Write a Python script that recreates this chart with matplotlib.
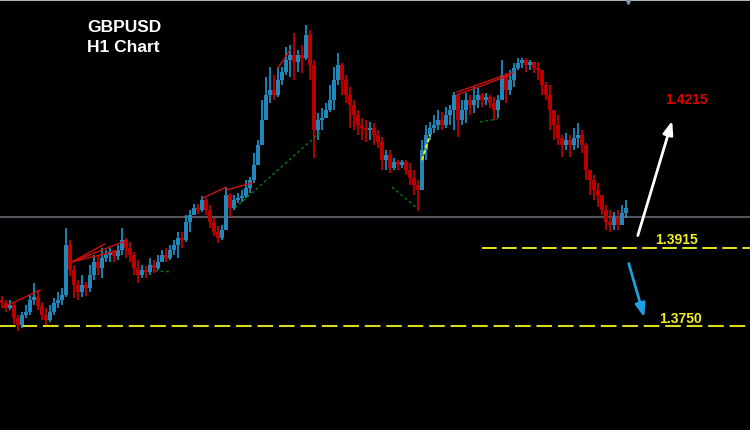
import matplotlib
matplotlib.use("Agg")
import matplotlib.pyplot as plt
import numpy as np

# GBPUSD H1 bars (open = previous close)
first_open = 1.3805

closes = [1.3799, 1.3788, 1.3795, 1.3767, 1.3752, 1.3774, 1.3780, 1.3805, 1.3812, 1.3793,
          1.3774, 1.3763, 1.3780, 1.3799, 1.3805, 1.3816, 1.3922, 1.3869, 1.3837, 1.3822,
          1.3837, 1.3831, 1.3858, 1.3886, 1.3873, 1.3894, 1.3900, 1.3907, 1.3898, 1.3911,
          1.3932, 1.3915, 1.3900, 1.3873, 1.3858, 1.3869, 1.3865, 1.3879, 1.3873, 1.3886,
          1.3900, 1.3894, 1.3911, 1.3922, 1.3936, 1.3932, 1.3970, 1.3985, 1.4000, 1.3996,
          1.4017, 1.3996, 1.3970, 1.3949, 1.3936, 1.3953, 1.4027, 1.4000, 1.4017, 1.4021,
          1.4025, 1.4042, 1.4059, 1.4091, 1.4133, 1.4186, 1.4239, 1.4249, 1.4239, 1.4271,
          1.4287, 1.4313, 1.4323, 1.4309, 1.4323, 1.4317, 1.4366, 1.4302, 1.4165, 1.4186,
          1.4190, 1.4207, 1.4228, 1.4271, 1.4302, 1.4271, 1.4239, 1.4218, 1.4197, 1.4175,
          1.4169, 1.4165, 1.4169, 1.4154, 1.4139, 1.4101, 1.4112, 1.4084, 1.4097, 1.4091,
          1.4097, 1.4080, 1.4063, 1.4049, 1.4038, 1.4123, 1.4154, 1.4169, 1.4175, 1.4186,
          1.4175, 1.4197, 1.4207, 1.4239, 1.4186, 1.4207, 1.4228, 1.4218, 1.4228, 1.4239,
          1.4228, 1.4235, 1.4222, 1.4207, 1.4228, 1.4281, 1.4249, 1.4271, 1.4296, 1.4306,
          1.4313, 1.4302, 1.4309, 1.4296, 1.4292, 1.4260, 1.4239, 1.4207, 1.4175, 1.4148,
          1.4133, 1.4144, 1.4133, 1.4148, 1.4154, 1.4133, 1.4080, 1.4059, 1.4038, 1.4027,
          1.3996, 1.3970, 1.3964, 1.3979, 1.3964, 1.3989, 1.4000]

highs = [1.3814, 1.3805, 1.3805, 1.3799, 1.3774, 1.3780, 1.3795, 1.3816, 1.3841, 1.3826,
         1.3801, 1.3788, 1.3795, 1.3809, 1.3822, 1.3831, 1.3958, 1.3932, 1.3879, 1.3848,
         1.3858, 1.3843, 1.3879, 1.3900, 1.3898, 1.3915, 1.3911, 1.3915, 1.3911, 1.3922,
         1.3958, 1.3936, 1.3928, 1.3907, 1.3890, 1.3879, 1.3877, 1.3894, 1.3890, 1.3900,
         1.3911, 1.3915, 1.3922, 1.3932, 1.3949, 1.3949, 1.3985, 1.3996, 1.4008, 1.4008,
         1.4025, 1.4021, 1.4006, 1.3979, 1.3962, 1.3964, 1.4044, 1.4032, 1.4027, 1.4032,
         1.4038, 1.4059, 1.4065, 1.4116, 1.4144, 1.4228, 1.4277, 1.4298, 1.4281, 1.4298,
         1.4298, 1.4340, 1.4345, 1.4370, 1.4334, 1.4345, 1.4387, 1.4376, 1.4313, 1.4201,
         1.4211, 1.4222, 1.4260, 1.4298, 1.4328, 1.4306, 1.4281, 1.4256, 1.4228, 1.4207,
         1.4190, 1.4186, 1.4182, 1.4180, 1.4165, 1.4150, 1.4123, 1.4123, 1.4106, 1.4101,
         1.4101, 1.4101, 1.4095, 1.4080, 1.4059, 1.4144, 1.4175, 1.4182, 1.4197, 1.4207,
         1.4203, 1.4213, 1.4218, 1.4245, 1.4228, 1.4228, 1.4243, 1.4239, 1.4256, 1.4254,
         1.4243, 1.4243, 1.4239, 1.4235, 1.4239, 1.4313, 1.4285, 1.4292, 1.4306, 1.4317,
         1.4317, 1.4317, 1.4313, 1.4309, 1.4309, 1.4292, 1.4266, 1.4260, 1.4207, 1.4197,
         1.4154, 1.4159, 1.4154, 1.4169, 1.4180, 1.4165, 1.4137, 1.4080, 1.4070, 1.4053,
         1.4027, 1.4006, 1.3996, 1.3991, 1.3996, 1.4006, 1.4017]

lows = [1.3788, 1.3780, 1.3784, 1.3754, 1.3740, 1.3746, 1.3767, 1.3774, 1.3795, 1.3784,
        1.3763, 1.3752, 1.3759, 1.3774, 1.3788, 1.3795, 1.3812, 1.3856, 1.3809, 1.3805,
        1.3812, 1.3814, 1.3822, 1.3848, 1.3858, 1.3852, 1.3886, 1.3886, 1.3886, 1.3890,
        1.3900, 1.3894, 1.3886, 1.3858, 1.3841, 1.3852, 1.3852, 1.3858, 1.3862, 1.3869,
        1.3886, 1.3886, 1.3890, 1.3900, 1.3894, 1.3915, 1.3928, 1.3949, 1.3985, 1.3987,
        1.3991, 1.3985, 1.3958, 1.3941, 1.3926, 1.3932, 1.3953, 1.3981, 1.3996, 1.4010,
        1.4013, 1.4021, 1.4032, 1.4053, 1.4091, 1.4137, 1.4213, 1.4222, 1.4228, 1.4235,
        1.4260, 1.4281, 1.4277, 1.4271, 1.4287, 1.4285, 1.4313, 1.4271, 1.4106, 1.4144,
        1.4165, 1.4192, 1.4203, 1.4207, 1.4260, 1.4239, 1.4222, 1.4169, 1.4165, 1.4154,
        1.4144, 1.4139, 1.4144, 1.4133, 1.4127, 1.4080, 1.4080, 1.4074, 1.4080, 1.4080,
        1.4084, 1.4070, 1.4049, 1.4027, 1.3994, 1.4038, 1.4101, 1.4144, 1.4159, 1.4165,
        1.4165, 1.4169, 1.4175, 1.4165, 1.4150, 1.4175, 1.4180, 1.4197, 1.4201, 1.4211,
        1.4213, 1.4218, 1.4211, 1.4186, 1.4190, 1.4228, 1.4222, 1.4239, 1.4256, 1.4292,
        1.4296, 1.4287, 1.4292, 1.4285, 1.4271, 1.4239, 1.4228, 1.4165, 1.4144, 1.4133,
        1.4108, 1.4123, 1.4108, 1.4123, 1.4127, 1.4116, 1.4059, 1.4027, 1.4017, 1.4002,
        1.3985, 1.3953, 1.3949, 1.3953, 1.3953, 1.3964, 1.3979]

# indicator lines: (bar, price) pairs
red_lines = [[(0.25, 1.3790), (9.5, 1.3826)],
             [(17.5, 1.3886), (25.75, 1.3924)],
             [(17.5, 1.3886), (30.75, 1.3930)],
             [(17.5, 1.3886), (28.75, 1.3909)],
             [(50.25, 1.4021), (56.0, 1.4044)],
             [(56.25, 1.4038), (62.5, 1.4053)],
             [(69.0, 1.4296), (72.0, 1.4334)],
             [(113.75, 1.4245), (127.75, 1.4287)],
             [(113.75, 1.4239), (127.0, 1.4281)]]
green_lines = [[(58.25, 1.4000), (79.5, 1.4159)],
               [(97.5, 1.4044), (103.75, 1.4000)],
               [(119.5, 1.4182), (124.0, 1.4188)],
               [(38.25, 1.3867), (42.0, 1.3865)]]
yellow_lines = [[(105.0, 1.4101), (107.0, 1.4154)]]

grey_level = 1.3981
support_1 = 1.3915
support_2 = 1.3750
target_up = "1.4215"

opens = [first_open] + closes[:-1]
o = np.array(opens)
c = np.array(closes)
h = np.maximum(np.array(highs), np.maximum(o, c))
l = np.minimum(np.array(lows), np.minimum(o, c))
idx = np.arange(len(c))

fig = plt.figure(figsize=(7.5, 4.3), dpi=100, facecolor="black")
ax = fig.add_axes([0, 0, 1, 1])
ax.set_facecolor("black")
ax.set_xlim(-0.5, 187)
ax.set_ylim(1.35303, 1.44398)
ax.axis("off")

up = c >= o
wick_col = np.where(up, "#1ea4e6", "#e00000")
body_col = np.where(up, "#2586b8", "#b80000")

ax.vlines(idx, l, h, colors=wick_col, linewidth=1.1, zorder=3)
body = np.where(np.abs(c - o) < 0.00015, 0.00015, c - o)
ax.bar(idx, body, bottom=o, width=0.78, color=body_col, linewidth=0, zorder=4)

# trend lines
for seg in red_lines:
    (x0, y0), (x1, y1) = seg
    ax.plot([x0, x1], [y0, y1], color="#d01010", lw=1.0, zorder=5)
for seg in green_lines:
    (x0, y0), (x1, y1) = seg
    ax.plot([x0, x1], [y0, y1], color="#0c7a10", lw=1.0, ls=(0, (2, 2)), zorder=5)
for seg in yellow_lines:
    (x0, y0), (x1, y1) = seg
    ax.plot([x0, x1], [y0, y1], color="#e8e820", lw=1.5, ls=(0, (2, 1)), zorder=5)

# levels
ax.axhline(grey_level, color="#55555d", lw=1.5, zorder=2)
ax.plot([120, 187], [support_1, support_1], color="#e6e620", lw=1.4,
        ls=(0, (7.5, 2.8)), zorder=2)
ax.axhline(support_2, color="#d8d820", lw=1.5, ls=(0, (7.5, 2.8)), zorder=2)

# top border with the shift marker
ax.axhline(1.44390, color="#d8d8d8", lw=1.2, zorder=6)
ax.plot([156.5], [1.4438], marker="v", color="#7f98b0", ms=5, clip_on=False, zorder=7)

# arrows
ax.annotate("", xy=(167.75, 1.4190), xytext=(158.75, 1.3936),
            arrowprops=dict(arrowstyle="-|>,head_length=0.8,head_width=0.3",
                            color="white", lw=2))
ax.annotate("", xy=(160.75, 1.3763), xytext=(156.5, 1.3888),
            arrowprops=dict(arrowstyle="-|>,head_length=0.8,head_width=0.3",
                            color="#1e9fe0", lw=2))

font = ["Liberation Sans", "DejaVu Sans"]
ax.text(171.0, 1.4228, target_up, color="#e00000", fontsize=10, fontweight="bold",
        ha="center", va="center", family=font)
ax.text(168.5, 1.3932, "1.3915", color="#f0f020", fontsize=10, fontweight="bold",
        ha="center", va="center", family=font)
ax.text(169.5, 1.3765, "1.3750", color="#f0f020", fontsize=10, fontweight="bold",
        ha="center", va="center", family=font)

fig.text(0.116, 1 - 27 / 430, "GBPUSD", color="white", fontsize=12.5, fontweight="bold",
         ha="left", va="center", family=font)
fig.text(0.116, 1 - 48 / 430, "H1 Chart", color="white", fontsize=12.5, fontweight="bold",
         ha="left", va="center", family=font)

fig.savefig("out.png", dpi=100, facecolor="black")
